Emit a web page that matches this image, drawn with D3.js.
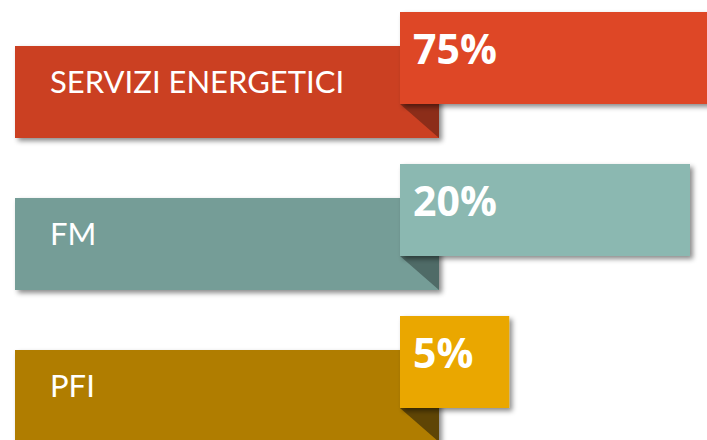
<!DOCTYPE html>
<html>
<head>
<meta charset="utf-8">
<script src="https://cdn.jsdelivr.net/npm/d3@7"></script>
<style>
  html, body { margin: 0; padding: 0; background: #fff; overflow: hidden; }
  svg { display: block; }
</style>
</head>
<body>
<div id="chart"></div>
<script>
// data
const categories = ["SERVIZI ENERGETICI", "FM", "PFI"];
const values = [75, 20, 5];
const labelColors = ["#CB4123", "#749D97", "#B07D00"];
const boxColors = ["#DE4726", "#8BB8B1", "#EAA700"];
const foldColors = ["#8C2D19", "#4F6B67", "#5F4505"];

const width = 707;
const height = 440;

const svg = d3
  .select("#chart")
  .append("svg")
  .attr("width", width)
  .attr("height", height);

// soft drop shadow
const defs = svg.append("defs");
const shadow = defs.append("filter")
  .attr("id", "shadow")
  .attr("x", "-10%").attr("y", "-20%")
  .attr("width", "130%").attr("height", "160%");
shadow.append("feDropShadow")
  .attr("dx", 3)
  .attr("dy", 3)
  .attr("stdDeviation", 2.5)
  .attr("flood-color", "#000")
  .attr("flood-opacity", 0.45);

// one row per category
const y = d3.scaleBand()
  .domain(categories)
  .range([12, 12 + 152 * categories.length]);

// value box width (the 75% box runs off the page)
const w = d3.scaleLinear().domain([0, 20]).range([49, 290]);

const labelLeft = 15;
const boxLeft = 400;
const labelRight = 439;
const boxH = 92;
const drop = 34;

const rows = svg.selectAll("g.row")
  .data(categories.map((c, i) => ({ cat: c, value: values[i], i: i })))
  .enter()
  .append("g")
  .attr("class", "row")
  .attr("transform", (d) => `translate(0,${y(d.cat)})`);

// label bar
rows.append("rect")
  .attr("x", labelLeft)
  .attr("y", drop)
  .attr("width", labelRight - labelLeft)
  .attr("height", boxH)
  .attr("fill", (d) => labelColors[d.i])
  .attr("filter", "url(#shadow)");

// fold
rows.append("path")
  .attr("d", `M${boxLeft},${boxH}L${labelRight},${boxH}L${labelRight},${boxH + drop}Z`)
  .attr("fill", (d) => foldColors[d.i]);

// value box
rows.append("rect")
  .attr("x", boxLeft)
  .attr("y", 0)
  .attr("width", (d) => w(d.value))
  .attr("height", boxH)
  .attr("fill", (d) => boxColors[d.i])
  .attr("filter", "url(#shadow)");

rows.append("text")
  .attr("x", 50)
  .attr("y", drop + 47)
  .attr("fill", "#fff")
  .style("font-family", "Lato, 'Open Sans', sans-serif")
  .style("font-weight", 400)
  .style("font-size", "31px")
  .text((d) => d.cat);

rows.append("text")
  .attr("x", boxLeft + 13)
  .attr("y", 52)
  .attr("fill", "#fff")
  .style("font-family", "'Open Sans', sans-serif")
  .style("font-weight", 700)
  .style("font-size", "41px")
  .text((d) => d.value + "%");
</script>
</body>
</html>
